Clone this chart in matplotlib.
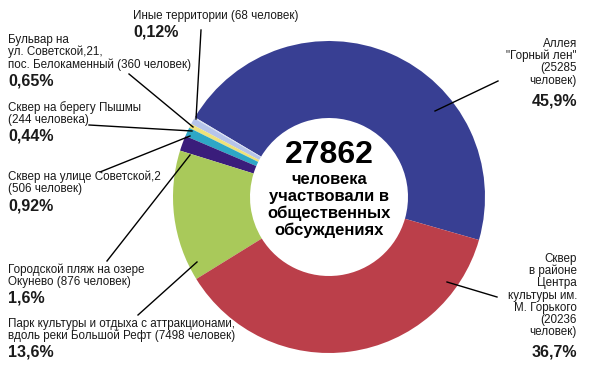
import matplotlib
matplotlib.use("Agg")
import matplotlib.pyplot as plt

plt.rcParams['font.family'] = ['Liberation Sans', 'DejaVu Sans']

# slices, counterclockwise starting from the blue one
names = ['Аллея "Горный лен"', 'Иные территории', 'Бульвар на ул. Советской,21',
         'Сквер на берегу Пышмы', 'Сквер на улице Советской,2',
         'Городской пляж на озере Окунево', 'Парк культуры и отдыха',
         'Сквер в районе Центра культуры']
people = [25285, 68, 360, 244, 506, 876, 7498, 20236]
pct_text = ['45,9%', '0,12%', '0,65%', '0,44%', '0,92%', '1,6%', '13,6%', '36,7%']
colors = ['#383f93', '#dde3f3', '#b6c4ea', '#efe27a', '#2ea7c6', '#3a1d7b',
          '#a9c95a', '#bb3f4a']
desc = ['Аллея\n"Горный лен"\n(25285\nчеловек)',
        'Иные территории (68 человек)',
        'Бульвар на\nул. Советской,21,\nпос. Белокаменный (360 человек)',
        'Сквер на берегу Пышмы\n(244 человека)',
        'Сквер на улице Советской,2\n(506 человек)',
        'Городской пляж на озере\nОкунево (876 человек)',
        'Парк культуры и отдыха с аттракционами,\nвдоль реки Большой Рефт (7498 человек)',
        'Сквер\nв районе\nЦентра\nкультуры им.\nМ. Горького\n(20236\nчеловек)']
total = 27862
center_lines = ['человека', 'участвовали в', 'общественных', 'обсуждениях']

W, H = 600, 385
fig = plt.figure(figsize=(6, 3.85), dpi=100)
ax = fig.add_axes([0, 0, 1, 1])

def py(y):
    return H - y

ax.pie(people, colors=colors, startangle=-16, counterclock=True,
       center=(329, py(197)), radius=156,
       wedgeprops=dict(width=77, linewidth=0))
ax.set_xlim(0, W)
ax.set_ylim(0, H)
ax.set_aspect('equal')
ax.axis('off')

# centre text
ax.text(329, py(155), str(total), ha='center', va='center', fontsize=23,
        fontweight='bold')
for k, s in enumerate(center_lines):
    ax.text(329, py(179 + 17 * k), s, ha='center', va='center', fontsize=12,
            fontweight='bold')

# label layout: (x, y of first line, y of percent, align, line start, line end)
layout = [
    (577, 44, 101, 'right', (498, 81), (435, 111)),
    (133, 16, 32, 'left', (201, 30), (196, 119)),
    (8, 40, 81, 'left', (129, 74), (193, 127)),
    (8, 108, 136, 'left', (89, 125), (192, 131)),
    (8, 177, 206, 'left', (100, 172), (190, 136)),
    (8, 270, 298, 'left', (107, 261), (190, 155)),
    (8, 324, 352, 'left', (138, 315), (197, 262)),
    (577, 259, 352, 'right', (497, 297), (447, 282)),
]

for i in range(len(people)):
    x, y0, yp, al, p0, p1 = layout[i]
    for k, line in enumerate(desc[i].split('\n')):
        ax.text(x, py(y0 + 12.2 * k), line, ha=al, va='center', fontsize=8.4,
                color='#1a1a1a')
    ax.text(x, py(yp), pct_text[i], ha=al, va='center', fontsize=11.5,
            fontweight='bold', color='#1a1a1a')
    ax.plot([p0[0], p1[0]], [py(p0[1]), py(p1[1])], color='black', lw=1)

fig.savefig('out.png', dpi=100)
